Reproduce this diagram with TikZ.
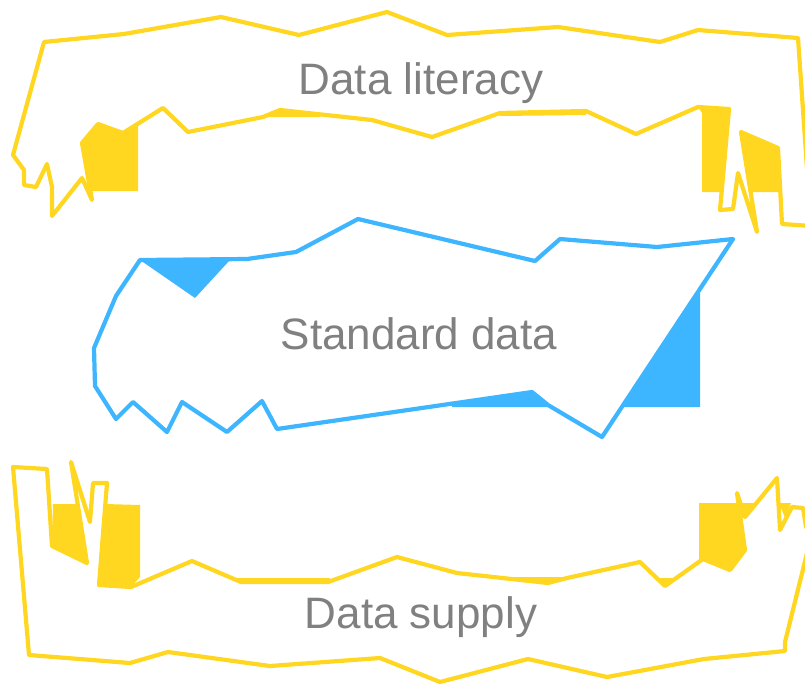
\documentclass[tikz,border=0pt]{standalone}
\usepackage{fontspec}
\setmainfont{Liberation Sans}
\definecolor{lityellow}{RGB}{255,214,32}
\definecolor{stdblue}{RGB}{62,182,255}
\definecolor{labelgray}{RGB}{128,128,128}
\begin{document}
\begin{tikzpicture}[x=1pt,y=-1pt,line width=4.2pt,line join=round,line cap=round,
  yline/.style={draw=lityellow},
  bline/.style={draw=stdblue},
  yfill/.style={fill=lityellow},
  bfill/.style={fill=stdblue},
  label/.style={text=labelgray,font=\fontsize{44}{50}\selectfont,anchor=base,inner sep=0pt}]
  \useasboundingbox (0,0) rectangle (805,683);
  \clip (0,0) rectangle (805,683);
  % top band
  \fill[yfill] (82,143) -- (98,124) -- (123,133) -- (138,124) -- (138,191) -- (90,191) -- cycle;
  \fill[yfill] (698,107) -- (729,109) -- (723,192) -- (702,192) -- (702,113) -- cycle;
  \fill[yfill] (741,132) -- (778,148) -- (778,192) -- (751,192) -- cycle;
  \fill[yfill] (263,117) -- (280,110) -- (320,114) -- (320,117) -- cycle;
  \fill[yfill] (500,113) -- (586,111) -- (586,115) -- (500,116) -- cycle;
  \draw[yline] (44,42) -- (124,34) -- (221,17) -- (299,35) -- (387,12) -- (447,35)
    -- (558,27) -- (660,42) -- (698,30) -- (798,38) -- (811,226) -- (782,224)
    -- (778,148) -- (741,132) -- (757,232) -- (738,173) -- (733,209) -- (720,210)
    -- (729,109) -- (698,107) -- (636,134) -- (586,111) -- (500,113) -- (432,137)
    -- (372,120) -- (280,110) -- (263,117) -- (188,132) -- (163,108) -- (123,133)
    -- (98,124) -- (82,143) -- (92,200) -- (82,178) -- (52,216) -- (52,187)
    -- (47,164) -- (36,187) -- (24,185) -- (24,170) -- (13,155) -- cycle;
  % middle band
  \fill[bfill] (140,260) -- (230,260) -- (195,298) -- cycle;
  \fill[bfill] (700,292) -- (700,407) -- (623,407) -- cycle;
  \fill[bfill] (452,405) -- (532,392) -- (550,407) -- (452,407) -- cycle;
  \draw[bline] (140,260) -- (247,259) -- (296,252) -- (358,219) -- (535,261)
    -- (560,239) -- (657,247) -- (733,239) -- (602,437) -- (548,405) -- (532,392)
    -- (277,429) -- (262,401) -- (227,432) -- (182,402) -- (167,432) -- (133,402)
    -- (116,419) -- (95,386) -- (94,348) -- (116,296) -- cycle;
  % bottom band
  \fill[yfill] (53,504) -- (79,504) -- (87,563) -- (52,546) -- cycle;
  \fill[yfill] (105,504) -- (140,505) -- (140,577) -- (131,587) -- (99,585) -- cycle;
  \fill[yfill] (699,503) -- (740,503) -- (745,550) -- (730,570) -- (703,560) -- (699,560) -- cycle;
  \fill[yfill] (742,503) -- (756,503) -- (745,517) -- cycle;
  \fill[yfill] (779,503) -- (791,503) -- (785,518) -- cycle;
  \fill[yfill] (235,578) -- (330,578) -- (328,583) -- (242,583) -- cycle;
  \fill[yfill] (500,577) -- (567,577) -- (548,583) -- cycle;
  \fill[yfill] (658,578) -- (673,578) -- (665,586) -- cycle;
  \draw[yline] (13,467) -- (47,469) -- (52,546) -- (87,563) -- (71,462) -- (90,522)
    -- (93,483) -- (107,483) -- (99,585) -- (131,587) -- (192,561) -- (241,582)
    -- (328,582) -- (397,557) -- (457,573) -- (548,583) -- (567,578) -- (640,562)
    -- (665,586) -- (703,559) -- (730,570) -- (745,550) -- (737,493) -- (745,517)
    -- (777,478) -- (780,530) -- (792,507) -- (803,508) -- (806,527) -- (812,533)
    -- (785,642) -- (785,651) -- (704,659) -- (607,677) -- (528,659) -- (440,682)
    -- (380,658) -- (270,666) -- (168,652) -- (130,663) -- (29,655) -- cycle;
  \node[label] (literacy) at (421,94) {Data literacy};
  \node[label] (standard) at (419,349) {Standard data};
  \node[label] (supply) at (421,628) {Data supply};
\end{tikzpicture}
\end{document}
